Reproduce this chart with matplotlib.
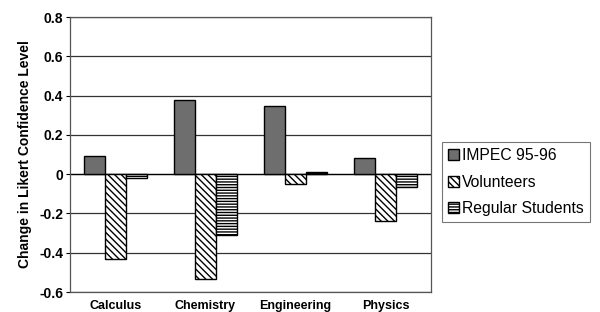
import matplotlib
matplotlib.use("Agg")
import matplotlib.pyplot as plt
import numpy as np

plt.rcParams['font.family'] = ['Liberation Sans', 'DejaVu Sans']
plt.rcParams['hatch.linewidth'] = 1.0

categories = ["Calculus", "Chemistry", "Engineering", "Physics"]
series_names = ["IMPEC 95-96", "Volunteers", "Regular Students"]
impec = [0.09, 0.375, 0.345, 0.08]
volunteers = [-0.43, -0.535, -0.05, -0.24]
regular = [-0.02, -0.31, 0.01, -0.065]
yticks = [-0.6, -0.4, -0.2, 0, 0.2, 0.4, 0.6, 0.8]
ytick_labels = ["-0.6", "-0.4", "-0.2", "0", "0.2", "0.4", "0.6", "0.8"]

fig = plt.figure(figsize=(6, 3.12), dpi=100)
ax = fig.add_axes([0.1167, 0.064, 0.6017, 0.8815])

x = np.arange(len(categories))
w = 0.233
styles = [dict(color="#6e6e6e", hatch=None),
          dict(color="white", hatch="\\" * 5),
          dict(color="white", hatch="-" * 6)]
for i, (vals, name, st) in enumerate(zip([impec, volunteers, regular], series_names, styles)):
    ax.bar(x + (i - 1) * w, vals, w, facecolor=st["color"], edgecolor="black",
           hatch=st["hatch"], linewidth=1.0, label=name, zorder=3)

ax.set_xlim(-0.5, 3.5)
ax.set_ylim(-0.6, 0.8)
ax.set_yticks(yticks)
ax.set_yticklabels(ytick_labels, fontsize=10, fontweight='bold')
ax.set_xticks(x)
ax.set_xticklabels(categories, fontsize=9, fontweight='bold')
ax.tick_params(axis='x', length=0, pad=6)
ax.tick_params(axis='y', length=3, direction='out', pad=2)
ax.yaxis.grid(True, color="#333333", linewidth=0.9, zorder=0)
ax.axhline(0, color="black", linewidth=0.9, zorder=2)
for s in ax.spines.values():
    s.set_color("#555555")
    s.set_linewidth(0.9)
ax.set_ylabel("Change in Likert Confidence Level", fontsize=10, fontweight='bold', labelpad=5)

leg = fig.legend(loc="upper left", bbox_to_anchor=(0.736, 0.545), fontsize=11.3,
                 handlelength=0.7, handleheight=0.7, handletextpad=0.2,
                 labelspacing=0.72, borderpad=0.4, borderaxespad=0.0,
                 frameon=True, fancybox=False, edgecolor="#555555")
leg.get_frame().set_linewidth(0.8)

fig.savefig("out.png", dpi=100)
